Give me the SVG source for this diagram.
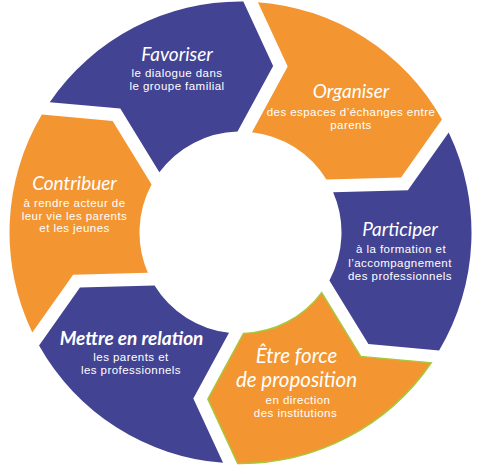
<svg xmlns="http://www.w3.org/2000/svg" xmlns:xlink="http://www.w3.org/1999/xlink" width="477" height="466" viewBox="0 0 477 466">
<style>
.blue{fill:#434393}
.orange{fill:#F39631}
.edge{stroke:#A8C83C;stroke-width:1.5}
.t{font-family:Lato,"Open Sans",sans-serif;font-style:italic;font-size:19px;fill:#fff;text-anchor:middle}
.s{font-family:"Liberation Sans",Arial,sans-serif;font-size:11.5px;letter-spacing:0.45px;fill:#fff;text-anchor:middle}
</style>
<defs>
<path id="seg" d="M7.38,-230.88 A231,231 0 0 1 196.32,-121.73 L157.98,-61.93 L83.55,-56.74 A101,101 0 0 0 7.11,-100.75 L39.90,-167.94 Z"/>
</defs>
<rect width="477" height="466" fill="#fff"/>
<g id="connectors"/>
<g id="organiser">
<use xlink:href="#seg" class="orange" transform="translate(240.5,232.5) rotate(2.5)"/>
<text class="t" x="351" y="98">Organiser</text>
<text class="s" x="351" y="115.5">des espaces d’échanges entre</text>
<text class="s" x="351" y="128.5">parents</text>
</g>
<g id="participer">
<use xlink:href="#seg" class="blue" transform="translate(240.5,232.5) rotate(62.5)"/>
<text class="t" x="400" y="236">Participer</text>
<text class="s" x="401" y="253">à la formation et</text>
<text class="s" x="400" y="266.5">l’accompagnement</text>
<text class="s" x="400" y="280">des professionnels</text>
</g>
<g id="etre">
<use xlink:href="#seg" class="orange edge" transform="translate(240.5,232.5) rotate(122.5)"/>
<text class="t" x="296.5" y="363" style="font-size:20.5px">Être force</text>
<text class="t" x="296.5" y="387" style="font-size:20.5px">de proposition</text>
<text class="s" x="298" y="404">en direction</text>
<text class="s" x="295.5" y="417">des institutions</text>
</g>
<g id="mettre">
<use xlink:href="#seg" class="blue" transform="translate(240.5,232.5) rotate(182.5)"/>
<text class="t" x="131.5" y="345" style="font-weight:bold">Mettre en relation</text>
<text class="s" x="131" y="361">les parents et</text>
<text class="s" x="131" y="374">les professionnels</text>
</g>
<g id="contribuer">
<use xlink:href="#seg" class="orange" transform="translate(240.5,232.5) rotate(242.5)"/>
<text class="t" x="74.5" y="190">Contribuer</text>
<text class="s" x="74.5" y="206.5">à rendre acteur de</text>
<text class="s" x="74.5" y="219.5">leur vie les parents</text>
<text class="s" x="74.5" y="232">et les jeunes</text>
</g>
<g id="favoriser">
<use xlink:href="#seg" class="blue" transform="translate(240.5,232.5) rotate(302.5)"/>
<text class="t" x="177" y="61">Favoriser</text>
<text class="s" x="177" y="77">le dialogue dans</text>
<text class="s" x="177" y="90">le groupe familial</text>
</g>
</svg>
